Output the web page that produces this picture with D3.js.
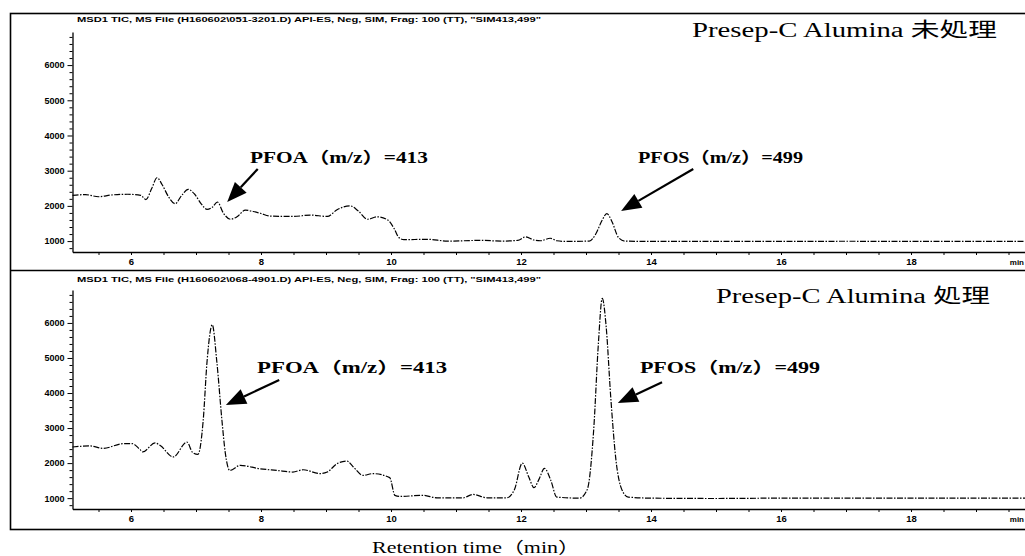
<!DOCTYPE html>
<html><head><meta charset="utf-8">
<script src="https://cdn.jsdelivr.net/npm/d3@7"></script>
<style>
html,body{margin:0;padding:0;background:#fff;}
svg{display:block;}
</style></head>
<body>
<svg id="chart" width="1025" height="556"></svg>
<script>
// ---- data (retention time in min, abundance) ----
const topTime = [5.10,5.30,5.50,5.70,5.95,6.15,6.23,6.32,6.40,6.48,6.58,6.68,6.78,6.88,6.98,7.08,7.17,7.25,7.33,7.42,7.53,7.63,7.76,7.88,7.99,8.14,8.50,8.76,9.02,9.17,9.37,9.50,9.64,9.79,9.95,10.05,10.12,10.20,10.56,10.87,11.38,11.70,11.95,12.07,12.20,12.30,12.45,12.55,12.70,13.05,13.15,13.25,13.32,13.40,13.50,13.60,14.0,15.0,16.0,17.0,18.0,19.8];
const topValue = [2300,2320,2260,2310,2330,2300,2180,2500,2800,2600,2250,2060,2300,2470,2330,2060,1900,1960,2110,1800,1620,1690,1880,1840,1790,1710,1700,1740,1700,1890,2000,1850,1620,1690,1600,1350,1100,1040,1050,1000,1020,1000,1020,1120,1030,1010,1080,1010,990,1000,1200,1600,1780,1550,1100,1000,990,990,990,995,990,990];

const botTime = [5.10,5.37,5.57,5.88,6.02,6.14,6.18,6.37,6.45,6.65,6.86,6.95,7.03,7.11,7.17,7.25,7.32,7.40,7.45,7.52,7.68,7.98,8.25,8.49,8.65,8.91,9.02,9.17,9.32,9.42,9.57,9.72,9.98,10.06,10.14,10.49,10.71,11.11,11.26,11.48,11.78,11.90,12.02,12.12,12.20,12.28,12.36,12.46,12.55,12.90,13.02,13.12,13.19,13.25,13.31,13.38,13.46,13.55,13.65,14.0,15.0,16.0,17.0,18.0,19.8];
const botValue = [2460,2490,2420,2555,2555,2385,2320,2575,2500,2175,2600,2300,2250,3200,4900,5950,4900,3200,2300,1790,1935,1840,1790,1745,1810,1700,1745,1985,2060,1890,1650,1700,1585,1080,1050,1080,1010,1010,1105,1010,1010,1250,2000,1600,1300,1550,1850,1500,1030,1000,1250,3000,5400,6700,5900,3900,2100,1250,1030,1000,990,1000,1000,1000,1000];

const yMajorTicks = [1000,2000,3000,4000,5000,6000];
const xMajorTicks = [6,8,10,12,14,16,18];

const headers = ["MSD1 TIC, MS File (H160602\\051-3201.D)    API-ES, Neg, SIM, Frag: 100 (TT), \"SIM413,499\"",
                 "MSD1 TIC, MS File (H160602\\068-4901.D)    API-ES, Neg, SIM, Frag: 100 (TT), \"SIM413,499\""];
const titles = ["Presep-C Alumina 未処理", "Presep-C Alumina 処理"];
const xTitle = "Retention time（min）";
const xUnit = "min";

// annotations: label position and arrow tail/tip, in data units
const annTop = [
  {text:"PFOA（m/z）=413", t:7.83, v:3220, tt:7.95, tv:3050, pt:7.48, pv:2110, w:178},
  {text:"PFOS（m/z）=499", t:13.8, v:3220, tt:14.65, tv:3050, pt:13.54, pv:1855, w:165}
];
const annBot = [
  {text:"PFOA（m/z）=413", t:7.94, v:4570, tt:8.28, tv:4370, pt:7.46, pv:3660, w:190},
  {text:"PFOS（m/z）=499", t:13.83, v:4570, tt:14.17, tv:4310, pt:13.49, pv:3715, w:180}
];

// ---- drawing ----
const svg = d3.select("#chart");
const x = d3.scaleLinear().domain([5.1, 19.8]).range([72.5, 1028]);

// frame
svg.append("rect").attr("x",10.5).attr("y",13.5).attr("width",1030).attr("height",516)
  .attr("fill","none").attr("stroke","#000").attr("stroke-width",1.6);
svg.append("line").attr("x1",10).attr("x2",1030).attr("y1",270.5).attr("y2",270.5)
  .attr("stroke","#000").attr("stroke-width",1.6);

const panels = [
  {time:topTime, value:topValue, y0:252, y1:32, header:headers[0], title:titles[0], titleY:37, titleX:692, titleW:305, hdrY:22, ann:annTop},
  {time:botTime, value:botValue, y0:509, y1:290, header:headers[1], title:titles[1], titleY:303, titleX:716, titleW:274, hdrY:282, ann:annBot}
];

panels.forEach(p => {
  const y = d3.scaleLinear().domain([690, 6940]).range([p.y0, p.y1]);
  const g = svg.append("g");

  // header
  g.append("text").attr("x",77).attr("y",p.hdrY).text(p.header)
    .attr("font-family","Liberation Sans Narrow, Liberation Sans, Arial, sans-serif")
    .attr("font-size",8).attr("font-weight","bold")
    .attr("textLength",464).attr("lengthAdjust","spacingAndGlyphs");

  // x axis
  const xMinor = d3.range(5.5, 19.76, 0.5);
  const xa = g.append("g").attr("transform",`translate(0,${p.y0})`)
    .call(d3.axisBottom(x).tickValues(xMinor).tickSizeInner(3).tickSizeOuter(0).tickPadding(3)
      .tickFormat(d => xMajorTicks.includes(d) ? d : ""));
  xa.select(".domain").attr("stroke-width",1.3);
  xa.selectAll("text").attr("font-family","Liberation Sans, Arial, sans-serif")
    .attr("font-size",9.5).attr("font-weight","bold");
  g.append("text").attr("x",1024).attr("y",p.y0+13).attr("text-anchor","end").text(xUnit)
    .attr("font-family","Liberation Sans, Arial, sans-serif").attr("font-size",8).attr("font-weight","bold");

  // y axis
  const yMinor = d3.range(800, 6940, 200).filter(v => !yMajorTicks.includes(v));
  const ym = g.append("g").attr("transform","translate(72.5,0)")
    .call(d3.axisLeft(y).tickValues(yMinor).tickSizeInner(3).tickSizeOuter(0).tickFormat(""));
  ym.select(".domain").remove();
  const ya = g.append("g").attr("transform","translate(72.5,0)")
    .call(d3.axisLeft(y).tickValues(yMajorTicks).tickSizeInner(5).tickSizeOuter(0).tickPadding(3).tickFormat(d3.format("d")));
  ya.select(".domain").attr("stroke-width",1.3);
  ya.selectAll("text").attr("font-family","Liberation Sans, Arial, sans-serif")
    .attr("font-size",9).attr("font-weight","bold");

  // trace
  const line = d3.line().x(d => x(d[0])).y(d => y(d[1])).curve(d3.curveMonotoneX);
  const pts = p.time.map((t,i) => [t, p.value[i]]);
  g.append("path").attr("d", line(pts)).attr("fill","none").attr("stroke","#000")
    .attr("stroke-width",1.2).attr("stroke-dasharray","6,1.5,1.5,1.5");

  // title
  g.append("text").attr("x",p.titleX).attr("y",p.titleY).text(p.title)
    .attr("font-family","Liberation Serif, Noto Sans CJK JP, serif").attr("font-size",20)
    .attr("textLength",p.titleW).attr("lengthAdjust","spacingAndGlyphs");

  // annotations
  p.ann.forEach(a => {
    g.append("text").attr("x",x(a.t)).attr("y",y(a.v)).text(a.text)
      .attr("font-family","Liberation Serif, Noto Sans CJK JP, serif").attr("font-size",16).attr("font-weight","bold")
      .attr("textLength",a.w).attr("lengthAdjust","spacingAndGlyphs");
    const x1 = x(a.tt), y1 = y(a.tv), x2 = x(a.pt), y2 = y(a.pv);
    const ang = Math.atan2(y2-y1, x2-x1);
    const L = 20, W = 8;
    const bx = x2 - L*Math.cos(ang), by = y2 - L*Math.sin(ang);
    g.append("line").attr("x1",x1).attr("y1",y1).attr("x2",bx).attr("y2",by)
      .attr("stroke","#000").attr("stroke-width",2.2);
    const px = -Math.sin(ang), py = Math.cos(ang);
    g.append("polygon").attr("points",[[x2,y2],[bx+W*px,by+W*py],[bx-W*px,by-W*py]].map(q=>q.join(",")).join(" "))
      .attr("fill","#000");
  });
});

// x title
svg.append("text").attr("x",476).attr("y",553).attr("text-anchor","middle").text(xTitle)
  .attr("font-family","Liberation Serif, Noto Sans CJK JP, serif").attr("font-size",16)
  .attr("textLength",208).attr("lengthAdjust","spacingAndGlyphs");
</script>
</body></html>
